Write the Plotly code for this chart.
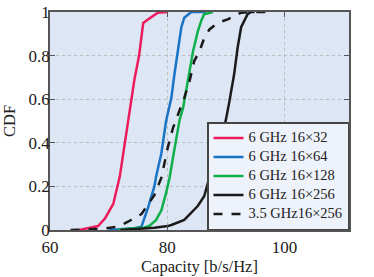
import plotly.graph_objects as go

# CDF curves: capacity [b/s/Hz] vs CDF
cap_32 = [65.0, 66.2, 68.2, 69.4, 70.8, 71.9, 72.5, 73.3, 73.8, 74.4, 75.2, 75.9, 76.7, 78.4, 80.0]
cdf_32 = [0, 0.008, 0.018, 0.054, 0.12, 0.245, 0.35, 0.49, 0.6, 0.69, 0.8, 0.95, 0.966, 0.997, 1.0]

cap_64 = [70.0, 74.4, 75.6, 75.9, 76.4, 76.7, 77.3, 77.8, 78.1, 79.0, 79.8, 80.7, 81.2, 81.8, 82.4, 82.9, 84.1, 86.6]
cdf_64 = [0, 0.008, 0.015, 0.035, 0.077, 0.1, 0.153, 0.2, 0.245, 0.352, 0.5, 0.606, 0.71, 0.82, 0.93, 0.974, 1.0, 1.0]

cap_128 = [71.6, 73.3, 76.1, 77.0, 78.1, 79.0, 79.8, 80.4, 80.9, 81.4, 82.1, 82.7, 83.2, 83.8, 84.4, 85.2, 85.8, 86.3, 87.8]
cdf_128 = [0, 0.006, 0.012, 0.02, 0.046, 0.09, 0.17, 0.24, 0.32, 0.40, 0.505, 0.56, 0.64, 0.73, 0.82, 0.91, 0.96, 0.99, 1.0]

cap_256 = [72.0, 75.6, 77.8, 80.1, 80.7, 82.9, 84.0, 85.2, 86.3, 87.8, 89.2, 90.0, 90.6, 91.4, 92.0, 92.6, 93.7, 94.3, 94.9]
cdf_256 = [0, 0.006, 0.01, 0.018, 0.023, 0.046, 0.075, 0.11, 0.155, 0.3, 0.42, 0.505, 0.59, 0.713, 0.836, 0.93, 0.99, 1.0, 1.0]

cap_35 = [63.5, 68.8, 71.6, 73.3, 75.6, 76.7, 77.8, 79.0, 80.1, 81.0, 82.0, 82.9, 83.8, 84.6, 85.5, 86.3, 87.2, 88.6, 90.3, 92.6, 94.3, 97.1]
cdf_35 = [0, 0.005, 0.015, 0.038, 0.073, 0.115, 0.16, 0.24, 0.38, 0.47, 0.54, 0.606, 0.683, 0.775, 0.82, 0.88, 0.92, 0.95, 0.966, 0.997, 1.0, 1.0]

names = ["6 GHz 16×32", "6 GHz 16×64", "6 GHz 16×128", "6 GHz 16×256", "3.5 GHz16×256"]
colors = ["#ec1c5c", "#1a74c6", "#0fb04c", "#1a1a1a", "#1a1a1a"]
dashes = ["solid", "solid", "solid", "solid", "dash"]
xs = [cap_32, cap_64, cap_128, cap_256, cap_35]
ys = [cdf_32, cdf_64, cdf_128, cdf_256, cdf_35]
x_ticks = [60, 80, 100]
y_ticks = [0, 0.2, 0.4, 0.6, 0.8, 1]

FONT = "Liberation Serif"
LEGEND_TEXT_PX = 14.5

fig = go.Figure()
for n, c, d, x, y in zip(names, colors, dashes, xs, ys):
    fig.add_trace(go.Scatter(
        x=x, y=y, mode="lines",
        name=f'<span style="font-size:{LEGEND_TEXT_PX}px">{n}</span>',
        line=dict(color=c, width=2.5, dash=d)))

axis_common = dict(
    showline=True, linecolor="#555555", linewidth=1.5, mirror="ticks",
    ticks="inside", ticklen=5, tickcolor="#555555", tickwidth=1,
    showgrid=True, gridcolor="#bdbdbd", gridwidth=1, griddash="dot",
    zeroline=False, automargin=False,
    tickfont=dict(family=FONT, size=17, color="#222222"),
)

fig.update_layout(
    width=374, height=277,
    margin=dict(l=50, r=25, t=12, b=47),
    paper_bgcolor="white",
    plot_bgcolor="#dde6f4",
    font=dict(family=FONT, color="#222222"),
    xaxis=dict(range=[60, 111], tickvals=x_ticks, ticklabelstandoff=1,
               title=dict(text="Capacity [b/s/Hz]", font=dict(family=FONT, size=16.5), standoff=0),
               **axis_common),
    yaxis=dict(range=[0, 1], tickvals=y_ticks, ticklabelstandoff=-5,
               title=dict(text="CDF", font=dict(family=FONT, size=16.5), standoff=9),
               **axis_common),
    legend=dict(x=1, y=0, xanchor="right", yanchor="bottom",
                bgcolor="#eef2fa", bordercolor="#444444", borderwidth=1.5,
                font=dict(family=FONT, size=9, color="#222222"),
                tracegroupgap=0, itemwidth=30),
    showlegend=True,
)

fig.write_html("out.html", config={"displayModeBar": False},
               post_script="document.body.style.margin='0';")
